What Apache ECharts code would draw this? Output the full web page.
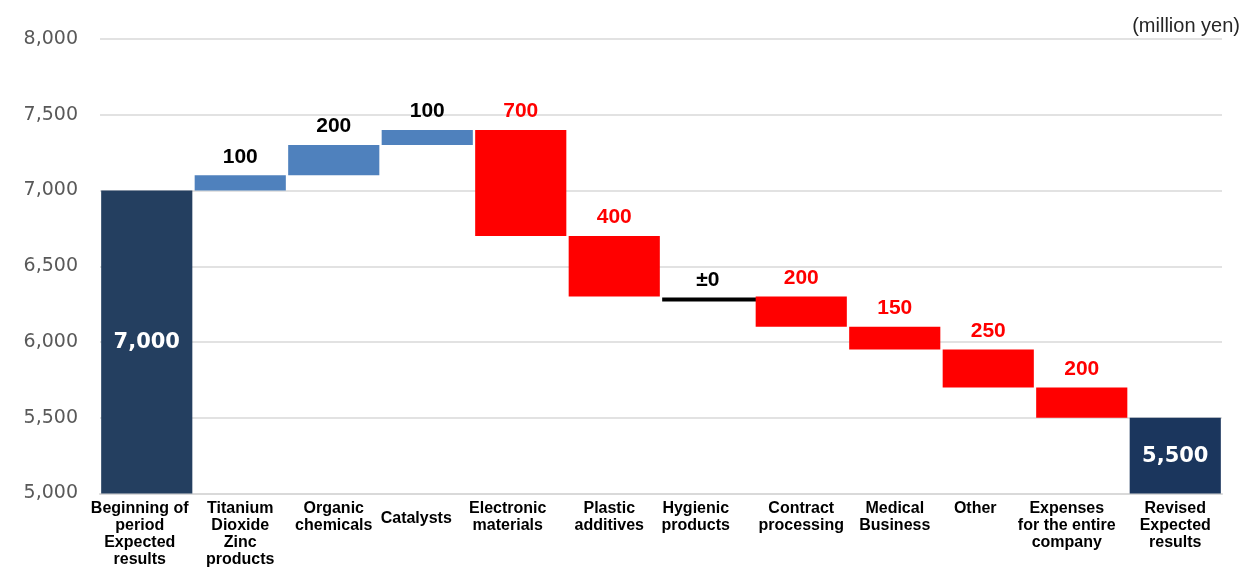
<!DOCTYPE html>
<html>
<head>
<meta charset="utf-8">
<script src="https://cdn.jsdelivr.net/npm/echarts@6/dist/echarts.min.js"></script>
<style>html,body{margin:0;padding:0;background:#fff}#c{width:1242px;height:568px}</style>
</head>
<body>
<div id="c"></div>
<script>
// ---- data ----
const categories = [
  'Beginning of\nperiod\nExpected\nresults',
  'Titanium\nDioxide\nZinc\nproducts',
  'Organic\nchemicals',
  'Catalysts',
  'Electronic\nmaterials',
  'Plastic\nadditives',
  'Hygienic\nproducts',
  'Contract\nprocessing',
  'Medical\nBusiness',
  'Other',
  'Expenses\nfor the entire\ncompany',
  'Revised\nExpected\nresults'
];
const values = [7000, 100, 200, 100, -700, -400, 0, -200, -150, -250, -200, 5500];
const kinds = ['total', 'delta', 'delta', 'delta', 'delta', 'delta', 'delta', 'delta', 'delta', 'delta', 'delta', 'total'];
const valueLabels = ['7,000', '100', '200', '100', '700', '400', '±0', '200', '150', '250', '200', '5,500'];
const yTicks = [5000, 5500, 6000, 6500, 7000, 7500, 8000];

// ---- build waterfall ranges ----
const rows = [];
let running = 0;
values.forEach((v, i) => {
  if (kinds[i] === 'total') {
    rows.push([i, 5000, v]);
    running = v;
  } else {
    const start = running, end = running + v;
    rows.push([i, Math.min(start, end), Math.max(start, end)]);
    running = end;
  }
});

const labelShift = {0: -7, 3: -11, 4: -13, 5: -5, 6: -12, 9: -13, 10: -15};
const rich = {};
categories.forEach((c, i) => {
  const s = labelShift[i] || 0;
  rich['c' + i] = {
    fontFamily: '"Liberation Sans", Arial, sans-serif', fontWeight: 'bold', fontSize: 16,
    lineHeight: 17, color: '#000', align: 'center',
    padding: [i === 3 ? 19 : 0, s < 0 ? -2 * s : 0, 0, s > 0 ? 2 * s : 0]
  };
});

const chart = echarts.init(document.getElementById('c'), null, {renderer: 'canvas'});
chart.setOption({
  animation: false,
  backgroundColor: '#fff',
  grid: {left: 100, right: 20, top: 39, bottom: 70, containLabel: false},
  graphic: [{
    type: 'text', right: 2, top: 16,
    style: {text: '(million yen)', fill: '#262626', font: '20px "Liberation Sans", Arial, sans-serif'}
  }],
  xAxis: {
    type: 'category',
    data: categories,
    axisLine: {show: true, lineStyle: {color: '#d9d9d9', width: 2}},
    axisTick: {show: false},
    axisLabel: {
      interval: 0, margin: 7,
      formatter: (val, idx) => val.split('\n').map(l => '{c' + idx + '|' + l + '}').join('\n'),
      rich: rich
    }
  },
  yAxis: {
    type: 'value', min: 5000, max: 8000, interval: 500,
    axisLine: {show: false}, axisTick: {show: false},
    splitLine: {lineStyle: {color: '#d9d9d9', width: 1.5}},
    axisLabel: {
      margin: 22, color: '#595959', fontSize: 19, fontFamily: '"DejaVu Sans", Verdana, sans-serif',
      formatter: v => yTicks.indexOf(v) >= 0 ? v.toLocaleString('en-US') : ''
    }
  },
  series: [{
    type: 'custom',
    data: rows,
    encode: {x: 0, y: [1, 2]},
    renderItem: function (params, api) {
      const i = api.value(0), lo = api.value(1), hi = api.value(2);
      const band = api.size([1, 0])[0];
      const bw = band * 0.975;
      const top = api.coord([i, hi]);
      const bot = api.coord([i, lo]);
      const cx = top[0];
      const children = [];
      const v = values[i];
      if (kinds[i] === 'total') {
        const col = i === 0 ? '#243F60' : '#1B365D';
        children.push({type: 'rect', shape: {x: cx - bw / 2, y: top[1], width: bw, height: bot[1] - top[1]}, style: {fill: col}});
        children.push({type: 'text', style: {
          text: valueLabels[i], x: cx, y: (top[1] + bot[1]) / 2 + 1,
          textAlign: 'center', textVerticalAlign: 'middle', align: 'center', verticalAlign: 'middle',
          fill: '#fff', font: 'bold 21px "DejaVu Sans", Verdana, sans-serif'
        }});
      } else if (v === 0) {
        children.push({type: 'rect', shape: {x: cx - bw / 2, y: top[1] + 1, width: bw * 1.1, height: 4}, style: {fill: '#000'}});
        children.push({type: 'text', style: {
          text: valueLabels[i], x: cx, y: top[1] - 6,
          textAlign: 'center', textVerticalAlign: 'bottom', align: 'center', verticalAlign: 'bottom',
          fill: '#000', font: 'bold 21px "Liberation Sans", Arial, sans-serif'
        }});
      } else {
        const col = v > 0 ? '#4F81BD' : '#FF0000';
        children.push({type: 'rect', shape: {x: cx - bw / 2, y: top[1], width: bw, height: bot[1] - top[1]}, style: {fill: col}});
        children.push({type: 'text', style: {
          text: valueLabels[i], x: cx, y: top[1] - 8,
          textAlign: 'center', textVerticalAlign: 'bottom', align: 'center', verticalAlign: 'bottom',
          fill: v > 0 ? '#000' : '#FF0000', font: 'bold 21px "Liberation Sans", Arial, sans-serif'
        }});
      }
      return {type: 'group', children: children};
    }
  }]
});
</script>
</body>
</html>
